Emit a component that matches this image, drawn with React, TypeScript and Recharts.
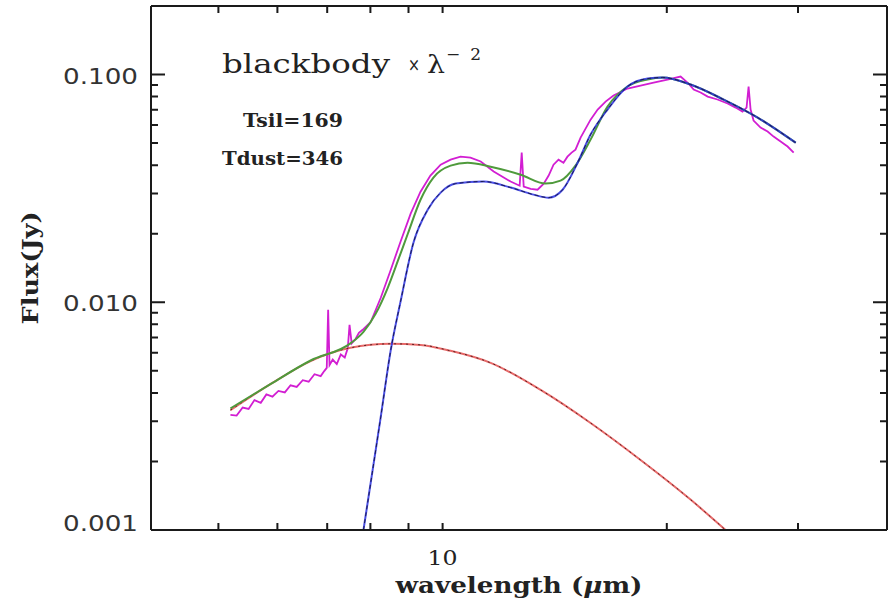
import React from 'react';
import { LineChart, Line, XAxis, YAxis } from 'recharts';

// observed spectrum (magenta)
const obsWave = [
  5.19, 5.29, 5.39, 5.49, 5.59, 5.70, 5.80, 5.91, 6.02, 6.14, 6.25, 6.37, 6.49, 6.61, 6.73, 6.86, 6.94, 6.99,
  7.02, 7.05, 7.12, 7.21, 7.30, 7.39, 7.46, 7.50, 7.55, 7.64, 7.72, 7.81, 8.01, 8.26, 8.52, 8.78, 9.06, 9.34,
  9.63, 9.94, 10.25, 10.57, 10.90, 11.25, 11.71, 12.34, 12.69, 12.77, 12.85, 13.13, 13.41, 13.67, 13.88, 14.09,
  14.31, 14.53, 14.71, 14.90, 15.08, 15.32, 15.80, 16.15, 16.55, 16.96, 17.71, 18.44, 19.20, 20.04, 20.87, 21.39,
  21.73, 22.20, 22.69, 23.39, 24.13, 24.74, 25.27, 25.59, 25.75, 25.91, 26.15, 26.72, 27.31, 27.82, 28.43, 29.05,
  29.60,
];
const obsFlux = [
  0.0032, 0.00318, 0.00345, 0.0034, 0.00372, 0.00362, 0.00394, 0.00385, 0.00408, 0.00402, 0.00432, 0.00425,
  0.00455, 0.00448, 0.00483, 0.00474, 0.005, 0.00515, 0.00927, 0.0053, 0.0056, 0.00535, 0.0059, 0.00572, 0.0063,
  0.00796, 0.0066, 0.0069, 0.00734, 0.00757, 0.00821, 0.01047, 0.0139, 0.01845, 0.0245, 0.0306, 0.036, 0.0402,
  0.0423, 0.0436, 0.0432, 0.0415, 0.0375, 0.0339, 0.0325, 0.0454, 0.0322, 0.0315, 0.0312, 0.0332, 0.036, 0.0402,
  0.0423, 0.041, 0.0436, 0.0454, 0.0468, 0.0529, 0.0634, 0.0702, 0.0761, 0.0809, 0.0868, 0.0894, 0.0922, 0.0951,
  0.098, 0.0913, 0.0859, 0.0834, 0.08, 0.0777, 0.0746, 0.0716, 0.0688, 0.0716, 0.0886, 0.0702, 0.0628, 0.0585,
  0.0562, 0.0534, 0.0508, 0.0483, 0.0454,
];

// total model (green)
const totalWave = [
  5.19, 5.88, 6.65, 7.52, 7.83, 8.13, 8.44, 8.70, 8.98, 9.34, 9.72, 10.25, 10.80, 11.60, 12.73, 13.75, 14.40,
  15.08, 15.80, 16.65, 17.71, 18.84, 19.74, 21.52, 23.84, 26.48, 29.78,
];
const totalFlux = [
  0.00342, 0.00438, 0.00555, 0.0066, 0.00742, 0.0089, 0.01158, 0.01507, 0.02, 0.0282, 0.0353, 0.0398, 0.041,
  0.0394, 0.0363, 0.0332, 0.0342, 0.0398, 0.0518, 0.0723, 0.0886, 0.0951, 0.097, 0.0904, 0.0776, 0.0647, 0.0502,
];

// silicate component (blue)
const silWave = [
  7.83, 8.26, 8.52, 8.78, 9.14, 9.55, 9.94, 10.41, 11.35, 12.34, 13.25, 13.88, 14.49, 15.18, 15.80, 16.65, 17.71,
  18.84, 19.74, 21.52, 23.84, 26.48, 29.78,
];
const silFlux = [
  0.001, 0.00314, 0.00618, 0.01005, 0.0183, 0.0255, 0.0303, 0.0332, 0.0339, 0.0319, 0.0297, 0.0288, 0.0312,
  0.041, 0.0545, 0.0702, 0.0886, 0.096, 0.097, 0.0904, 0.0776, 0.0647, 0.0502,
];

// dust blackbody (red)
const dustWave = [5.19, 5.88, 6.65, 7.52, 8.52, 9.34, 10.25, 11.6, 13.54, 15.8, 18.44, 21.52, 23.98];
const dustFlux = [0.00336, 0.00438, 0.00552, 0.00631, 0.00657, 0.0065, 0.00612, 0.00542, 0.00412, 0.00295, 0.00203, 0.00136, 0.001];

const xTicks = [5, 6, 7, 8, 9, 10, 20, 30];
const xTickLabels: Record<string, string> = { '10': '10' };
const yTicks = [
  0.001, 0.002, 0.003, 0.004, 0.005, 0.006, 0.007, 0.008, 0.009,
  0.01, 0.02, 0.03, 0.04, 0.05, 0.06, 0.07, 0.08, 0.09, 0.1,
];
const yTickLabels: Record<string, string> = { '0.001': '0.001', '0.01': '0.010', '0.1': '0.100' };

const X_DOMAIN = [4.06, 39.5];
const Y_DOMAIN = [0.001, 0.2];

const W = 890;
const H = 611;
const M_LEFT = 151;
const M_RIGHT = 3;
const M_TOP = 6;
const M_BOTTOM = 81;
const PLOT_W = W - M_LEFT - M_RIGHT;
const PLOT_H = H - M_TOP - M_BOTTOM;

const toPoints = (w: number[], f: number[]) => w.map((x, i) => ({ x, y: f[i] }));

const isMajor = (v: number) => {
  const l = Math.log10(v);
  return Math.abs(l - Math.round(l)) < 1e-6;
};

// same log mapping as the chart's axes, used only for the inward tick marks
const sx = (v: number) => M_LEFT + (PLOT_W * Math.log(v / X_DOMAIN[0])) / Math.log(X_DOMAIN[1] / X_DOMAIN[0]);
const sy = (v: number) => M_TOP + PLOT_H * (1 - Math.log(v / Y_DOMAIN[0]) / Math.log(Y_DOMAIN[1] / Y_DOMAIN[0]));

const INK = '#1a1a1a';

const LeftTick = (props: any) => {
  const { x, y, payload } = props;
  const v = payload.value;
  const label = yTickLabels[String(v)];
  if (!label) return <g />;
  return (
    <text x={x - 13} y={v === 0.001 ? y + 1 : y + 9} textAnchor="end" fontFamily="DejaVu Sans"
      fontSize={22} textLength={75} lengthAdjust="spacingAndGlyphs" fill="#333">{label}</text>
  );
};

const BottomTick = (props: any) => {
  const { x, y, payload } = props;
  const label = xTickLabels[String(payload.value)];
  if (!label) return <g />;
  return (
    <text x={x} y={y + 35} textAnchor="middle" fontFamily="DejaVu Serif" fontSize={20}
      textLength={30} lengthAdjust="spacingAndGlyphs" fill="#222">{label}</text>
  );
};

const NoTick = () => <g />;

export default function App() {
  const obs = toPoints(obsWave, obsFlux);
  const total = toPoints(totalWave, totalFlux);
  const sil = toPoints(silWave, silFlux);
  const dust = toPoints(dustWave, dustFlux);
  const frame = { stroke: INK, strokeWidth: 2 };

  const R = W - M_RIGHT;
  const B = H - M_BOTTOM;
  let ticksPath = '';
  yTicks.forEach((v) => {
    const len = isMajor(v) ? 14 : 7;
    const y = sy(v).toFixed(1);
    ticksPath += `M${M_LEFT},${y}h${len}M${R},${y}h${-len}`;
  });
  xTicks.forEach((t) => {
    const x = sx(t).toFixed(1);
    ticksPath += `M${x},${B}v-7M${x},${M_TOP}v7`;
  });

  return (
    <div style={{ position: 'absolute', left: 0, top: 0, width: W, height: H, background: '#fff' }}>
      <LineChart width={W} height={H} margin={{ top: M_TOP - 1, right: 0, bottom: 0, left: 0 }}>
        <XAxis dataKey="x" type="number" scale="log" domain={X_DOMAIN} allowDataOverflow ticks={xTicks}
          interval={0} height={M_BOTTOM} tickSize={0} tickMargin={0} axisLine={frame} tickLine={false} tick={BottomTick} />
        <XAxis xAxisId="top" orientation="top" dataKey="x" type="number" scale="log" domain={X_DOMAIN}
          allowDataOverflow ticks={xTicks} interval={0} height={1} tickSize={0} tickMargin={0} axisLine={frame}
          tickLine={false} tick={NoTick} />
        <YAxis type="number" scale="log" domain={Y_DOMAIN} allowDataOverflow ticks={yTicks} interval={0}
          width={M_LEFT} tickSize={0} tickMargin={0} axisLine={frame} tickLine={false} tick={LeftTick} />
        <YAxis yAxisId="right" orientation="right" type="number" scale="log" domain={Y_DOMAIN} allowDataOverflow
          ticks={yTicks} interval={0} width={M_RIGHT} tickSize={0} tickMargin={0} axisLine={frame} tickLine={false}
          tick={NoTick} />
        <Line data={obs} dataKey="y" type="linear" stroke="#d21ed2" strokeWidth={1.8} dot={false} isAnimationActive={false} />
        <Line data={dust} dataKey="y" type="monotone" stroke="#e86a6a" strokeWidth={2} dot={false} isAnimationActive={false} />
        <Line data={dust} dataKey="y" type="monotone" stroke="#5a2020" strokeWidth={1} strokeDasharray="2 4" dot={false} isAnimationActive={false} />
        <Line data={total} dataKey="y" type="monotone" stroke="#4f9a3c" strokeWidth={2} dot={false} isAnimationActive={false} />
        <Line data={sil} dataKey="y" type="monotone" stroke="#2a30e0" strokeWidth={2} strokeOpacity={0.85} dot={false} isAnimationActive={false} />
        <Line data={sil} dataKey="y" type="monotone" stroke="#1a1a50" strokeWidth={1} strokeDasharray="4 3" dot={false} isAnimationActive={false} />
      </LineChart>
      <svg width={W} height={H} style={{ position: 'absolute', left: 0, top: 0, pointerEvents: 'none' }}>
        <path d={ticksPath} stroke={INK} strokeWidth={2} fill="none" />
        <g fontFamily="DejaVu Serif" fill="#222">
          <text x={222} y={73} fontSize={26} textLength={168} lengthAdjust="spacingAndGlyphs">blackbody</text>
          <text x={408} y={71} fontSize={18} textLength={12} lengthAdjust="spacingAndGlyphs">×</text>
          <text x={427} y={73} fontSize={25} textLength={18} lengthAdjust="spacingAndGlyphs">λ</text>
          <text x={446} y={60} fontSize={17} textLength={35} lengthAdjust="spacing">−2</text>
          <text x={243} y={127} fontSize={19} fontWeight="bold" textLength={100} lengthAdjust="spacingAndGlyphs">Tsil=169</text>
          <text x={222} y={165} fontSize={19} fontWeight="bold" textLength={121} lengthAdjust="spacingAndGlyphs">Tdust=346</text>
          <text x={519} y={593} fontSize={22} fontWeight="bold" textAnchor="middle" textLength={247} lengthAdjust="spacingAndGlyphs">
            wavelength (<tspan fontStyle="italic">μ</tspan>m)
          </text>
          <text x={0} y={0} fontSize={23} fontWeight="bold" textAnchor="middle" textLength={113} lengthAdjust="spacingAndGlyphs"
            transform="translate(38 268) rotate(-90)">Flux(Jy)</text>
        </g>
      </svg>
    </div>
  );
}
